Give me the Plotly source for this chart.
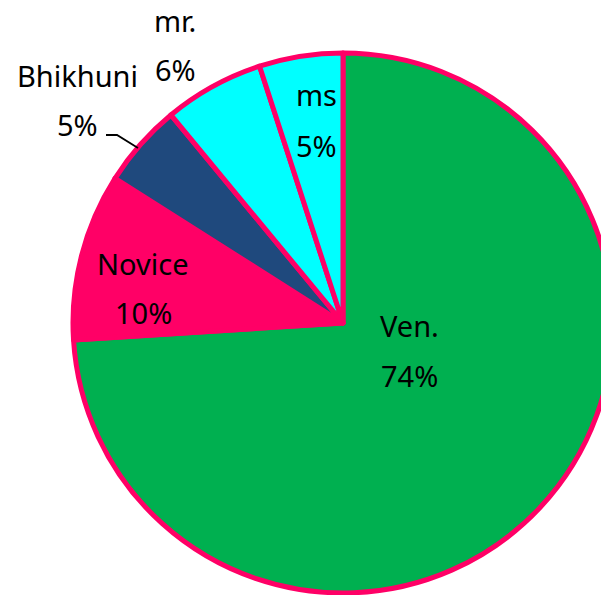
import plotly.graph_objects as go

labels = ["Ven.", "Novice", "Bhikhuni", "mr.", "ms"]
values = [74, 10, 5, 6, 5]
colors = ["#00B050", "#FF0066", "#1F497D", "#00FFFF", "#00FFFF"]

# label placement (pixel centre x, label baseline y, percent baseline y)
label_pos = {
    "Ven.": (409, 337, 387),
    "Novice": (143, 275, 325),
    "Bhikhuni": (77, 87, 137),
    "mr.": (175, 32, 82),
    "ms": (316, 107, 157),
}

W, H = 630, 600
L, R, T, B = 73, 17, 53, 7

fig = go.Figure(go.Pie(
    labels=labels,
    values=values,
    sort=False,
    direction="clockwise",
    rotation=0,
    marker=dict(colors=colors, line=dict(color="#FF0066", width=5)),
    textinfo="none",
    showlegend=False,
    hoverinfo="label+percent",
))

def px(x):
    return (x - L) / (W - L - R)

def py(y):
    return 1 - (y - T) / (H - T - B)

font = dict(family="Noto Sans", size=29, color="black")
total = sum(values)
for lab, val in zip(labels, values):
    cx, by1, by2 = label_pos[lab]
    for txt, by in ((lab, by1), (f"{round(100 * val / total)}%", by2)):
        fig.add_annotation(
            x=px(cx), y=py(by - 12), xref="paper", yref="paper",
            text=txt, showarrow=False, xanchor="center", yanchor="middle",
            font=font,
        )

# leader line for Bhikhuni
fig.add_shape(
    type="path",
    path=f"M {px(106)} {py(135)} L {px(117)} {py(135)} L {px(138)} {py(148)}",
    xref="paper", yref="paper",
    line=dict(color="black", width=1.8),
)

fig.update_layout(
    width=W,
    height=H,
    margin=dict(l=L, r=R, t=T, b=B),
    paper_bgcolor="white",
    plot_bgcolor="white",
)

fig.write_html(
    "out.html",
    config={"displayModeBar": False},
    post_script="document.body.style.margin='0';document.body.style.overflow='hidden';document.documentElement.style.overflow='hidden';",
)
